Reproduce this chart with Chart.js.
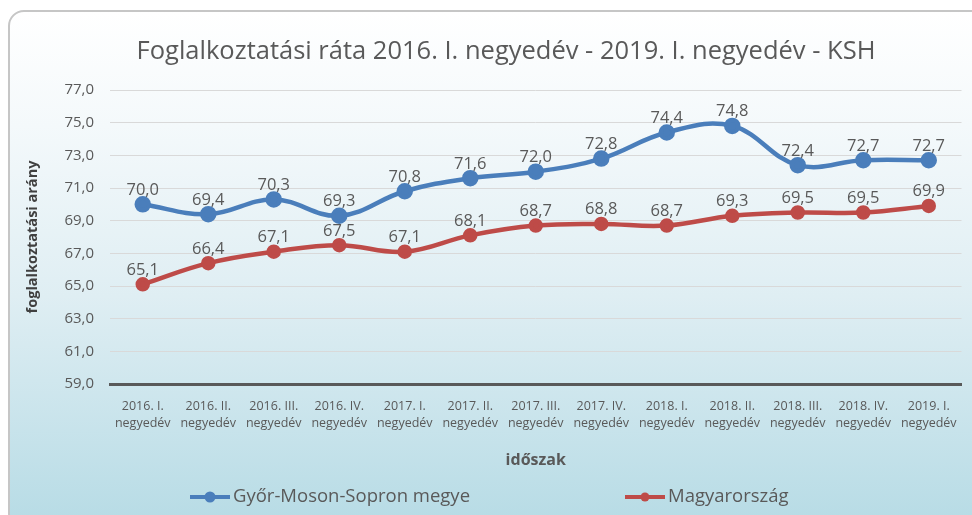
<!DOCTYPE html>
<html>
<head>
<meta charset="utf-8">
<script src="https://cdn.jsdelivr.net/npm/chart.js@4.4.1/dist/chart.umd.min.js"></script>
<style>
  html, body { margin: 0; padding: 0; background: #ffffff; overflow: hidden; }
  #frame {
    position: absolute; left: 8px; top: 10px; width: 990px; height: 520px;
    border: 2px solid #c6c6c6; border-radius: 16px; box-sizing: border-box;
    background: linear-gradient(to bottom, #ffffff 0%, #f4f9fb 22%, #dfeef3 55%, #b6dbe5 100%);
  }
  #wrap { position: absolute; left: 0; top: 0; width: 972px; height: 515px; }
</style>
</head>
<body>
<div id="frame"></div>
<div id="wrap"><canvas id="chart" width="972" height="515"></canvas></div>
<script>
const categories = [
  ['2016. I.', 'negyedév'], ['2016. II.', 'negyedév'], ['2016. III.', 'negyedév'], ['2016. IV.', 'negyedév'],
  ['2017. I.', 'negyedév'], ['2017. II.', 'negyedév'], ['2017. III.', 'negyedév'], ['2017. IV.', 'negyedév'],
  ['2018. I.', 'negyedév'], ['2018. II.', 'negyedév'], ['2018. III.', 'negyedév'], ['2018. IV.', 'negyedév'],
  ['2019. I.', 'negyedév']
];
const gyorValues = [70.0, 69.4, 70.3, 69.3, 70.8, 71.6, 72.0, 72.8, 74.4, 74.8, 72.4, 72.7, 72.7];
const hunValues = [65.1, 66.4, 67.1, 67.5, 67.1, 68.1, 68.7, 68.8, 68.7, 69.3, 69.5, 69.5, 69.9];
const seriesNames = ['Győr-Moson-Sopron megye', 'Magyarország'];
const seriesColors = ['#4a7ebb', '#be4b48'];
const chartTitle = 'Foglalkoztatási ráta 2016. I. negyedév - 2019. I. negyedév - KSH';

const fmt = (v) => v.toFixed(1).replace('.', ',');
const FONT = '"Open Sans", "Noto Sans", sans-serif';

//labels above each point
const pointLabels = {
  id: 'pointLabels',
  afterDatasetsDraw(chart) {
    const ctx = chart.ctx;
    ctx.save();
    ctx.font = '16.5px ' + FONT;
    ctx.fillStyle = '#595959';
    ctx.textAlign = 'center';
    ctx.textBaseline = 'bottom';
    chart.data.datasets.forEach((ds, i) => {
      chart.getDatasetMeta(i).data.forEach((pt, j) => {
        ctx.fillText(fmt(ds.data[j]), pt.x, pt.y - 6);
      });
    });
    ctx.restore();
  }
};

//title (a bit right of canvas centre, like the original) and wide legend
const titleAndLegend = {
  id: 'titleAndLegend',
  afterDraw(chart) {
    const ctx = chart.ctx;
    ctx.save();
    ctx.fillStyle = '#595959';
    ctx.font = '25.5px ' + FONT;
    ctx.textAlign = 'center';
    ctx.textBaseline = 'middle';
    ctx.fillText(chartTitle, 506, 52);

    const items = [{ x: 190 }, { x: 625 }];
    const y = 497;
    items.forEach((it, i) => {
      ctx.strokeStyle = seriesColors[i];
      ctx.fillStyle = seriesColors[i];
      ctx.lineWidth = 4;
      ctx.beginPath();
      ctx.moveTo(it.x, y);
      ctx.lineTo(it.x + 40, y);
      ctx.stroke();
      ctx.beginPath();
      ctx.arc(it.x + 20, y, i === 0 ? 5.5 : 4.5, 0, Math.PI * 2);
      ctx.fill();
      ctx.fillStyle = '#595959';
      ctx.font = '18.5px ' + FONT;
      ctx.textAlign = 'left';
      ctx.fillText(seriesNames[i], it.x + 43, y);
    });
    ctx.restore();
  }
};

new Chart(document.getElementById('chart'), {
  type: 'line',
  plugins: [pointLabels, titleAndLegend],
  data: {
    labels: categories,
    datasets: [
      {
        label: seriesNames[0],
        data: gyorValues,
        borderColor: seriesColors[0],
        backgroundColor: seriesColors[0],
        borderWidth: 4.5,
        pointRadius: 6,
        pointHoverRadius: 6,
        tension: 0.4
      },
      {
        label: seriesNames[1],
        data: hunValues,
        borderColor: seriesColors[1],
        backgroundColor: seriesColors[1],
        borderWidth: 4.5,
        pointRadius: 5,
        pointHoverRadius: 5,
        tension: 0.4
      }
    ]
  },
  options: {
    responsive: false,
    animation: false,
    layout: { padding: { left: 20, right: 10, top: 90, bottom: 41 } },
    plugins: {
      legend: { display: false },
      tooltip: { enabled: false },
      title: { display: false }
    },
    scales: {
      x: {
        offset: true,
        grid: { display: false, drawTicks: false },
        border: { display: true, color: '#595959', width: 3 },
        ticks: {
          color: '#595959',
          font: { family: FONT, size: 12.5, lineHeight: 1.35 },
          maxRotation: 0,
          autoSkip: false,
          padding: 14
        },
        title: {
          display: true,
          text: 'időszak',
          color: '#595959',
          font: { family: FONT, size: 16, weight: 'bold' },
          padding: { top: 8 }
        },
        afterFit: (s) => { s.height = 90; }
      },
      y: {
        min: 59,
        max: 77,
        grid: { color: '#d9d9d9', lineWidth: 1, drawTicks: false },
        border: { display: false },
        ticks: {
          stepSize: 2,
          color: '#595959',
          font: { family: FONT, size: 15 },
          padding: 16,
          callback: (v) => fmt(v)
        },
        title: {
          display: true,
          text: 'foglalkoztatási arány',
          color: '#404040',
          font: { family: FONT, size: 14.5, weight: 'bold' },
          padding: { bottom: 2 }
        },
        afterFit: (s) => { s.width = 90; }
      }
    }
  }
});
</script>
</body>
</html>
